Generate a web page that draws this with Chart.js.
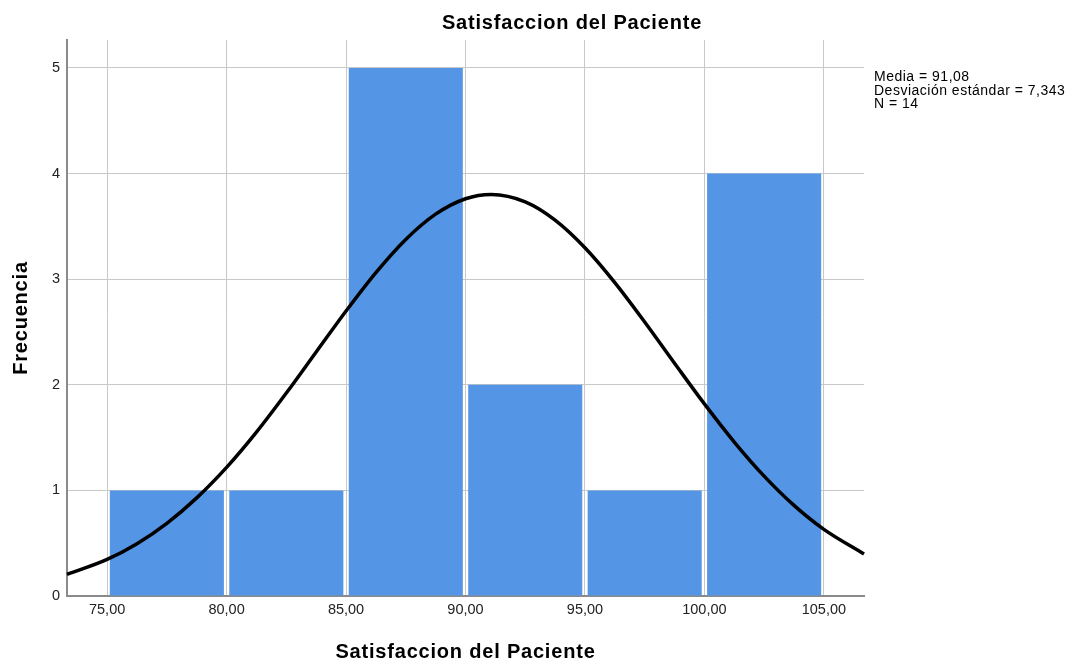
<!DOCTYPE html>
<html>
<head>
<meta charset="utf-8">
<script src="https://cdn.jsdelivr.net/npm/chart.js@4.4.0/dist/chart.umd.min.js"></script>
<style>
  html, body { margin: 0; padding: 0; background: #fff; }
  #wrap { width: 1070px; height: 663px; position: relative; }
</style>
</head>
<body>
<div id="wrap"><canvas id="chart-hist"></canvas></div>
<script>
// histogram bins (midpoints) and counts
const binCenters = [77.5, 82.5, 87.5, 92.5, 97.5, 102.5];
const binCounts = [1, 1, 5, 2, 1, 4];

// normal curve
const curveX = [73.32, 75, 76.25, 77.5, 78.75, 80, 81.25, 82.5, 83.75, 85, 86.25, 87.5, 88.75, 90, 91.08,
  92.5, 93.75, 95, 96.25, 97.5, 98.75, 100, 101.25, 102.5, 103.75, 105, 106.68];
const curveY = [0.204, 0.346, 0.495, 0.688, 0.929, 1.218, 1.552, 1.922, 2.311, 2.699, 3.063, 3.377, 3.616, 3.762, 3.803,
  3.733, 3.560, 3.298, 2.968, 2.595, 2.204, 1.819, 1.458, 1.135, 0.858, 0.631, 0.398];

const xTicks = [75, 80, 85, 90, 95, 100, 105];
const yTicks = [0, 1, 2, 3, 4, 5];
const statsLines = ['Media = 91,08', 'Desviación estándar = 7,343', 'N = 14'];

const FONT = 'Liberation Sans, Arial, sans-serif';

// titles + stats text drawn by hand (wider spacing than chart.js allows)
const textPlugin = {
  id: 'texts',
  afterDraw(chart) {
    const c = chart.ctx;
    const area = chart.chartArea;
    c.save();
    c.fillStyle = '#000';
    c.textBaseline = 'middle';
    c.textAlign = 'center';
    c.font = 'bold 20px ' + FONT;
    c.letterSpacing = '0.8px';
    c.fillText('Satisfaccion del Paciente', 572, 23);
    c.fillText('Satisfaccion del Paciente', (area.left + area.right) / 2, 652);
    c.save();
    c.translate(21, 318);
    c.rotate(-Math.PI / 2);
    c.fillText('Frecuencia', 0, 0);
    c.restore();
    c.font = '14px ' + FONT;
    c.letterSpacing = '0.5px';
    c.textAlign = 'left';
    c.textBaseline = 'alphabetic';
    statsLines.forEach((t, i) => c.fillText(t, 874, 81 + i * 13.5));
    c.restore();
  },
};

const ctx = document.getElementById('chart-hist');
new Chart(ctx, {
  data: {
    datasets: [
      {
        type: 'line',
        data: curveX.map((x, i) => ({ x, y: curveY[i] })),
        borderColor: '#000',
        borderWidth: 3.5,
        pointRadius: 0,
        cubicInterpolationMode: 'monotone',
        fill: false,
        order: 0,
        clip: false,
      },
      {
        type: 'bar',
        data: binCenters.map((x, i) => ({ x, y: binCounts[i] })),
        backgroundColor: '#5495e5',
        borderWidth: 0,
        barPercentage: 0.955,
        categoryPercentage: 1,
        order: 1,
      },
    ],
  },
  options: {
    responsive: true,
    maintainAspectRatio: false,
    animation: false,
    layout: { padding: { left: 0, right: 206, top: 40, bottom: 0 } },
    plugins: { legend: { display: false }, tooltip: { enabled: false } },
    scales: {
      x: {
        type: 'linear',
        offset: false,
        min: 73.32,
        max: 106.68,
        afterBuildTicks: s => { s.ticks = xTicks.map(v => ({ value: v })); },
        afterFit: s => { s.height = 67; },
        ticks: {
          color: '#222',
          font: { size: 14.5, family: FONT },
          padding: 5,
          maxRotation: 0,
          callback: v => v.toFixed(2).replace('.', ','),
        },
        grid: { color: '#c8c8c8', lineWidth: 1, drawTicks: false, offset: false },
        border: { color: '#8a8a8a', width: 2 },
      },
      y: {
        min: 0,
        max: 5.265,
        afterBuildTicks: s => { s.ticks = yTicks.map(v => ({ value: v })); },
        afterFit: s => { s.width = 67; },
        ticks: { color: '#222', font: { size: 14.5, family: FONT }, padding: 7 },
        grid: { color: '#c8c8c8', lineWidth: 1, drawTicks: false },
        border: { color: '#8a8a8a', width: 2 },
      },
    },
  },
  plugins: [textPlugin],
});
</script>
</body>
</html>
